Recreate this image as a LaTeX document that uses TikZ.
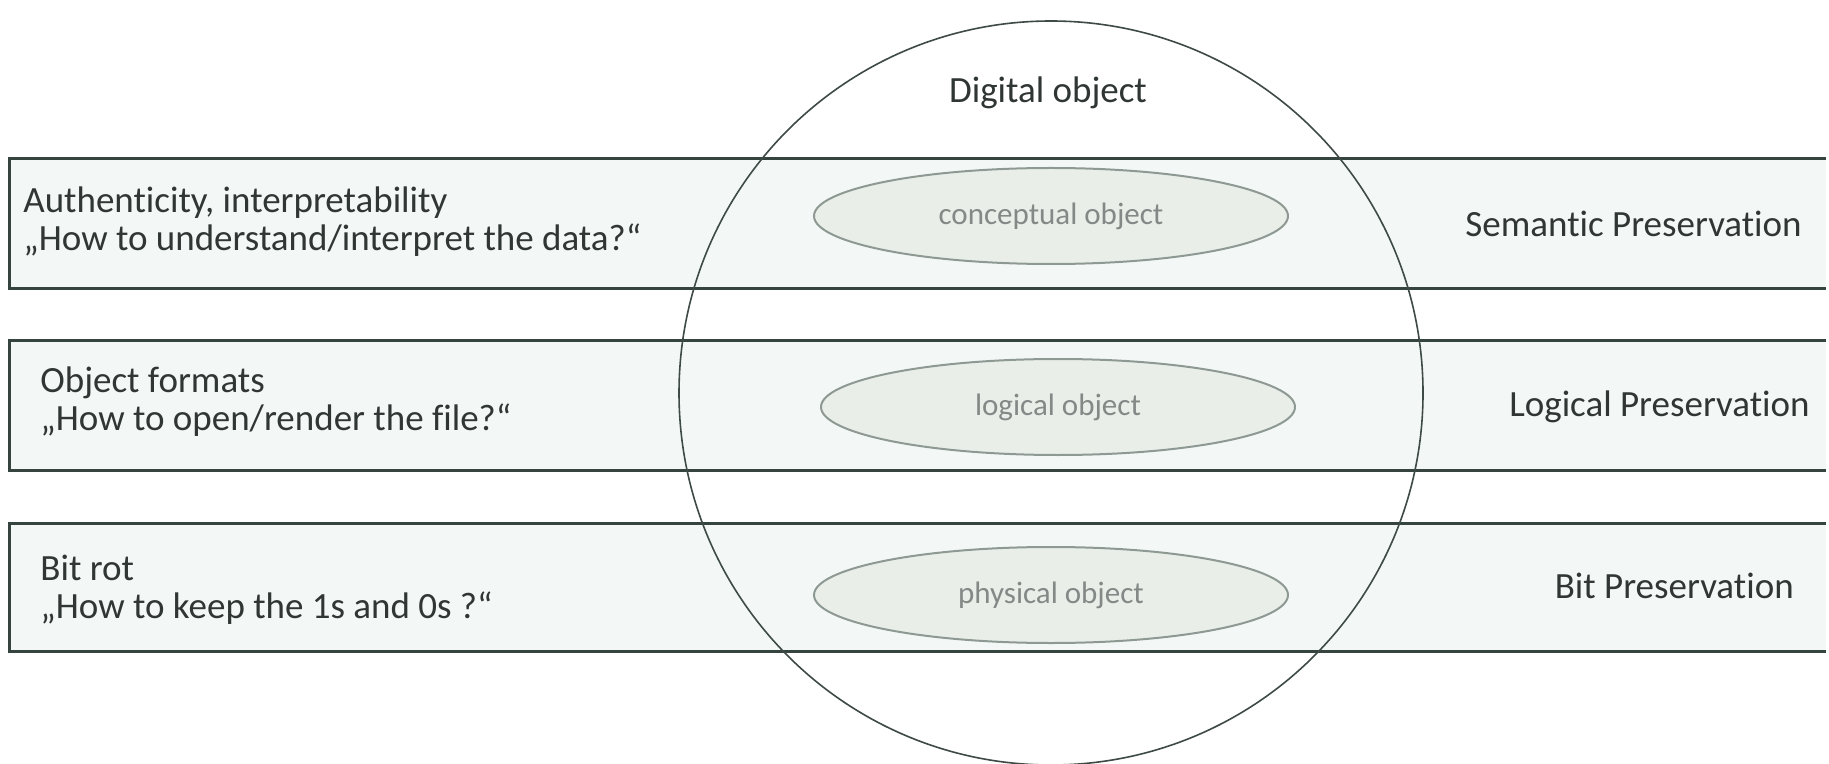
\documentclass[tikz,border=0pt]{standalone}
\usepackage{fontspec}
\setmainfont{Carlito}[Ligatures={NoCommon,NoRequired,NoContextual}]
\usetikzlibrary{shapes.geometric}
\definecolor{bandfill}{HTML}{F3F8F7}
\definecolor{bandline}{HTML}{36443F}
\definecolor{circline}{HTML}{3E4A46}
\definecolor{ellfill}{HTML}{E9EEE8}
\definecolor{elldraw}{HTML}{8E9994}
\definecolor{elltext}{HTML}{838986}
\definecolor{txt}{HTML}{2F3633}
\tikzset{
  bandbg/.style={fill=bandfill, draw=none},
  bandedge/.style={draw=bandline, line width=1.5pt},
  bigcirc/.style={draw=circline, line width=0.8pt},
  layer/.style={ellipse, fill=ellfill, draw=elldraw, line width=1pt,
    minimum width=237pt, minimum height=48pt, inner sep=0pt,
    text=elltext, font=\fontsize{15.5}{18}\selectfont},
  lefttext/.style={anchor=west, align=left, text=txt, inner sep=0pt,
    font=\fontsize{18.5}{19}\selectfont},
  righttext/.style={anchor=east, text=txt, inner sep=0pt,
    font=\fontsize{18.5}{19}\selectfont},
  toptext/.style={text=txt, inner sep=0pt, font=\fontsize{18.5}{19}\selectfont}
}
\begin{document}
\begin{tikzpicture}[x=0.5pt,y=-0.5pt]
\useasboundingbox[fill=white] (0,0) rectangle (1829,764);
% bands
\fill[bandbg] (9,159) rectangle (1826,289);
\fill[bandbg] (9,341) rectangle (1826,470);
\fill[bandbg] (9,523) rectangle (1826,651);
\draw[bandedge] (1826,159) -- (9,159) -- (9,289) -- (1826,289);
\draw[bandedge] (1826,341) -- (9,341) -- (9,470) -- (1826,470);
\draw[bandedge] (1826,523) -- (9,523) -- (9,651) -- (1826,651);
% big circle
\draw[bigcirc] (1051,393) circle [radius=186pt];
\node[toptext] (dig) at (1048,93) {Digital object};
% ellipses
\node[layer] (conc) at (1051,216) {conceptual object};
\node[layer] (logi) at (1058,407) {logical object};
\node[layer] (phys) at (1051,595) {physical object};
% left texts
\node[lefttext] (l1) at (23,222) {Authenticity, interpretability\\„How to understand/interpret the data?“};
\node[lefttext] (l2) at (40,402) {Object formats\\„How to open/render the file?“};
\node[lefttext] (l3) at (40,590) {Bit rot\\„How to keep the 1s and 0s ?“};
% right texts
\node[righttext] (r1) at (1802,224) {Semantic Preservation};
\node[righttext] (r2) at (1810,407) {Logical Preservation};
\node[righttext] (r3) at (1794,586) {Bit Preservation};
\end{tikzpicture}
\end{document}
